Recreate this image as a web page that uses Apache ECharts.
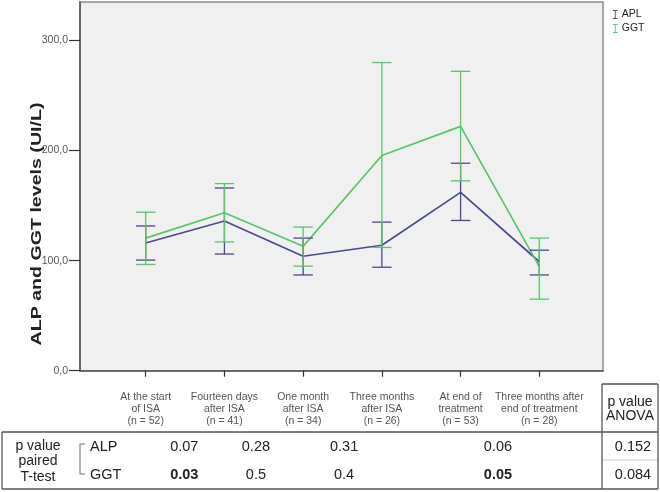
<!DOCTYPE html>
<html>
<head>
<meta charset="utf-8">
<script src="https://cdn.jsdelivr.net/npm/echarts@6/dist/echarts.min.js"></script>
<style>html,body{margin:0;padding:0;background:#fff}#c{width:660px;height:492px}</style>
</head>
<body>
<div id="c"></div>
<script>
const categories = ['At the start\nof ISA','Fourteen days\nafter ISA','One month\nafter ISA','Three months\nafter ISA','At end of\ntreatment','Three months after\nend of treatment'];
const nLabels = ['(n = 52)','(n = 41)','(n = 34)','(n = 26)','(n = 53)','(n = 28)'];
const alpMean = [116, 136, 104, 114, 162, 99];
const alpLow  = [100.5, 106, 87, 94, 136.5, 87];
const alpHigh = [131.5, 166, 120.5, 135, 188.5, 109.5];
const ggtMean = [120.5, 143.5, 113, 195.5, 222, 94.5];
const ggtLow  = [96.5, 117, 95, 112, 172.5, 65];
const ggtHigh = [144, 170, 130.5, 280, 272, 120.5];
const yTicks = [0, 100, 200, 300];
const pAlp = ['0.07', '0.28', '0.31', '0.06'];
const pGgt = ['0.03', '0.5', '0.4', '0.05'];
const pGgtBold = [true, false, false, true];
const pPos = [0.49, 1.4, 2.52, 4.475];
const anova = ['0.152', '0.084'];

const FONT = '"Liberation Sans", Arial, sans-serif';
const C_ALP = '#4a4a8e';
const C_GGT = '#5cc46a';
const idx = categories.map((_, i) => i);

function errSeries(name, low, high, color) {
  return {
    type: 'custom', name: name, z: 3,
    data: idx.map(i => [i, low[i], high[i]]),
    encode: { x: 0, y: [1, 2] },
    renderItem: function (params, api) {
      const x = api.value(0);
      const p1 = api.coord([x, api.value(1)]);
      const p2 = api.coord([x, api.value(2)]);
      const w = 9.7;
      const st = { stroke: color, lineWidth: 1.3 };
      return { type: 'group', children: [
        { type: 'line', shape: { x1: p1[0], y1: p1[1], x2: p2[0], y2: p2[1] }, style: st },
        { type: 'line', shape: { x1: p1[0] - w, y1: p1[1], x2: p1[0] + w, y2: p1[1] }, style: st },
        { type: 'line', shape: { x1: p2[0] - w, y1: p2[1], x2: p2[0] + w, y2: p2[1] }, style: st }
      ]};
    }
  };
}

const icon = 'path://M0,0L8,0L8,1.6L4.8,1.6L4.8,14.4L8,14.4L8,16L0,16L0,14.4L3.2,14.4L3.2,1.6L0,1.6Z';

const chart = echarts.init(document.getElementById('c'), null, { renderer: 'canvas' });
chart.setOption({
  animation: false,
  backgroundColor: '#ffffff',
  textStyle: { fontFamily: FONT },
  grid: { left: 80, top: 2, right: 57, bottom: 121.3, show: true, backgroundColor: '#f0f0f0', borderColor: '#8a8a8a', borderWidth: 1.5 },
  legend: {
    orient: 'vertical', left: 608, top: 4, itemGap: 3, itemWidth: 5, itemHeight: 9,
    textStyle: { fontSize: 10.5, color: '#222', fontFamily: FONT, padding: [0, 0, 0, -1] },
    data: [
      { name: 'APL', icon: icon, itemStyle: { color: C_ALP } },
      { name: 'GGT', icon: icon, itemStyle: { color: C_GGT } }
    ],
    selectedMode: false
  },
  xAxis: {
    type: 'value', min: -0.8346, max: 5.809,
    splitLine: { show: false },
    axisLine: { onZero: false, lineStyle: { color: '#555', width: 1.5 } },
    axisTick: { customValues: idx, length: 6, lineStyle: { color: '#333', width: 1.2 } },
    axisLabel: {
      customValues: idx, margin: 20, fontSize: 10.5, lineHeight: 12.3, color: '#555', fontFamily: FONT,
      formatter: v => { const i = Math.round(v); return categories[i] + '\n' + nLabels[i]; }
    }
  },
  yAxis: {
    type: 'value', min: 0, max: 335, interval: 100,
    splitLine: { show: false },
    axisLine: { show: true, onZero: false, lineStyle: { color: '#555', width: 1.5 } },
    axisTick: { show: true, customValues: yTicks, length: 11, lineStyle: { color: '#333', width: 1.2 } },
    axisLabel: { customValues: yTicks, margin: 12, fontSize: 10.5, color: '#555', fontFamily: FONT,
      formatter: v => v.toFixed(1).replace('.', ',') }
  },
  series: [
    { type: 'line', name: 'APL', data: idx.map(i => [i, alpMean[i]]), symbol: 'none', z: 2,
      lineStyle: { color: C_ALP, width: 1.7 }, itemStyle: { color: C_ALP } },
    { type: 'line', name: 'GGT', data: idx.map(i => [i, ggtMean[i]]), symbol: 'none', z: 2,
      lineStyle: { color: C_GGT, width: 1.7 }, itemStyle: { color: C_GGT } },
    errSeries('APL', alpLow, alpHigh, C_ALP),
    errSeries('GGT', ggtLow, ggtHigh, C_GGT)
  ]
});

// Y axis title and table below the chart
const g = [];
g.push({ type: 'text', x: 37.5, y: 224, rotation: Math.PI / 2, scaleX: 1.4, silent: true,
  style: { text: 'ALP and GGT levels (UI/L)', font: 'bold 14px ' + FONT, fill: '#222', align: 'center', verticalAlign: 'middle' } });

const L = (x1, y1, x2, y2, c, w) => ({ type: 'line', silent: true, shape: { x1, y1, x2, y2 }, style: { stroke: c || '#555', lineWidth: w || 1.3 } });
g.push(L(2, 432, 658, 432));
g.push(L(2, 489, 658, 489));
g.push(L(2, 432, 2, 489));
g.push(L(602, 384, 602, 489));
g.push(L(658, 384, 658, 489));
g.push(L(602, 384, 658, 384));
g.push(L(603, 460, 657, 460, '#d0d0d0', 1));
g.push({ type: 'polyline', silent: true, shape: { points: [[85, 444], [80, 444], [80, 474], [85, 474]] }, style: { stroke: '#777', lineWidth: 1.1, fill: null } });

const T = (text, x, y, opt) => Object.assign({ type: 'text', x, y, silent: true,
  style: { text, font: (opt && opt.bold ? 'bold ' : '') + ((opt && opt.size) || 14.5) + 'px ' + FONT, fill: '#222',
    align: (opt && opt.align) || 'center', verticalAlign: 'middle' } });
g.push(T('p value', 38, 446, { size: 14 }));
g.push(T('paired', 38, 461, { size: 14 }));
g.push(T('T-test', 38, 477, { size: 14 }));
g.push(T('ALP', 90, 446.7, { align: 'left' }));
g.push(T('GGT', 90, 474.5, { align: 'left' }));
g.push(T('p value', 630, 402, { size: 14 }));
g.push(T('ANOVA', 630, 416, { size: 14 }));
g.push(T(anova[0], 633, 447));
g.push(T(anova[1], 633, 475));
pPos.forEach((p, i) => {
  const px = chart.convertToPixel({ xAxisIndex: 0 }, p);
  g.push(T(pAlp[i], px, 446.7));
  g.push(T(pGgt[i], px, 474.5, { bold: pGgtBold[i] }));
});
chart.setOption({ graphic: g });
</script>
</body>
</html>
